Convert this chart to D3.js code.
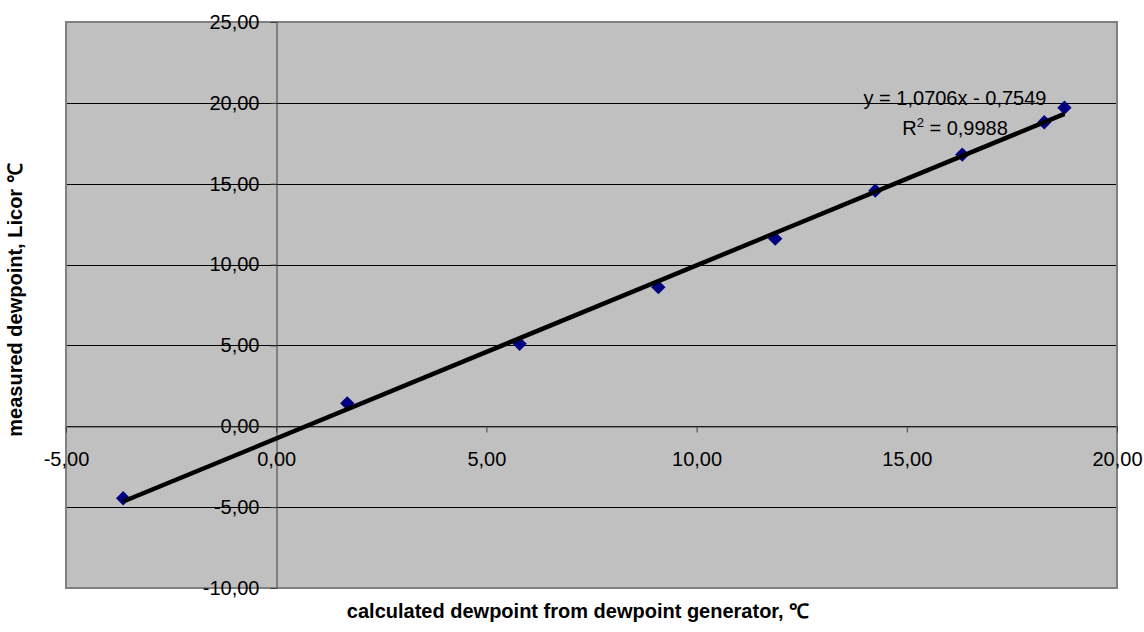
<!DOCTYPE html>
<html>
<head>
<meta charset="utf-8">
<script src="https://cdn.jsdelivr.net/npm/d3@7"></script>
<style>
  body { margin: 0; background: #fff; }
  svg { font-family: "Liberation Sans", Arial, sans-serif; }
</style>
</head>
<body>
<div id="chart"></div>
<script>
// measured points (calculated dewpoint vs Licor dewpoint)
var xValues = [-3.64, 1.69, 5.79, 9.09, 11.87, 14.25, 16.32, 18.27, 18.75]
var yValues = [-4.45, 1.42, 5.10, 8.60, 11.60, 14.57, 16.80, 18.80, 19.70]
var xTicks = [-5, 0, 5, 10, 15, 20]
var yTicks = [-10, -5, 0, 5, 10, 15, 20, 25]
var trendSlope = 1.0706
var trendIntercept = -0.7549

var width = 1144
var height = 632
// note: "top" is a window property, so use other names
var plotLeft = 66, plotRight = 1117, plotTop = 22, plotBottom = 588

var fmt = d3.formatLocale({ decimal: ",", thousands: ".", grouping: [3], currency: ["", ""], minus: "-" }).format(".2f")

var svg = d3.select("#chart").append("svg")
    .attr("width", width)
    .attr("height", height)

var x = d3.scaleLinear().domain([-5, 20]).range([plotLeft, plotRight])
var y = d3.scaleLinear().domain([-10, 25]).range([plotBottom, plotTop])

// plot area
svg.append("rect")
    .attr("x", plotLeft).attr("y", plotTop)
    .attr("width", plotRight - plotLeft).attr("height", plotBottom - plotTop)
    .attr("fill", "#c0c0c0")

// horizontal gridlines
svg.selectAll(".grid")
    .data(yTicks.filter(function(d) { return d > -10 && d < 25 }))
    .enter().append("line")
    .attr("x1", plotLeft).attr("x2", plotRight)
    .attr("y1", function(d) { return Math.round(y(d)) + 0.5 })
    .attr("y2", function(d) { return Math.round(y(d)) + 0.5 })
    .attr("stroke", "#000").attr("stroke-width", 1)

// border
svg.append("rect")
    .attr("x", plotLeft).attr("y", plotTop)
    .attr("width", plotRight - plotLeft).attr("height", plotBottom - plotTop)
    .attr("fill", "none").attr("stroke", "#808080").attr("stroke-width", 2)

// y axis at x = 0
var yAxis = d3.axisLeft(y).tickValues(yTicks).tickSize(6).tickPadding(11).tickFormat(fmt)
var gy = svg.append("g")
    .attr("transform", "translate(" + (Math.round(x(0)) + 0.5) + ",0)")
    .call(yAxis)
gy.select(".domain").attr("stroke", "#404040")
gy.selectAll(".tick line").attr("stroke", "#404040")
gy.selectAll("text").style("font-size", "20px").attr("fill", "#000")
    .style("font-family", "'Liberation Sans', Arial, sans-serif")

// x axis at y = 0
var xAxis = d3.axisBottom(x).tickValues(xTicks).tickSize(6).tickPadding(19).tickFormat(fmt)
var gx = svg.append("g")
    .attr("transform", "translate(0," + (Math.round(y(0)) + 0.5) + ")")
    .call(xAxis)
gx.select(".domain").attr("stroke", "#404040")
gx.selectAll(".tick line").attr("stroke", "#404040")
gx.selectAll("text").style("font-size", "20px").attr("fill", "#000")
    .style("font-family", "'Liberation Sans', Arial, sans-serif")

// markers
var diamond = d3.symbol().type(d3.symbolDiamond2).size(130)
svg.selectAll(".pt")
    .data(xValues.map(function(d, i) { return [d, yValues[i]] }))
    .enter().append("path")
    .attr("d", diamond)
    .attr("transform", function(d) { return "translate(" + x(d[0]) + "," + y(d[1]) + ")" })
    .attr("fill", "#000080")

// linear trendline
var xMin = d3.min(xValues), xMax = d3.max(xValues)
svg.append("line")
    .attr("x1", x(xMin)).attr("y1", y(trendSlope * xMin + trendIntercept))
    .attr("x2", x(xMax)).attr("y2", y(trendSlope * xMax + trendIntercept))
    .attr("stroke", "#000").attr("stroke-width", 4.5)

// equation labels
svg.append("text")
    .attr("x", 955).attr("y", 105)
    .attr("text-anchor", "middle")
    .style("font-size", "20px")
    .text("y = 1,0706x - 0,7549")

var r2 = svg.append("text")
    .attr("x", 955).attr("y", 135)
    .attr("text-anchor", "middle")
    .style("font-size", "20px")
r2.append("tspan").text("R")
r2.append("tspan").attr("dy", -8).style("font-size", "13px").text("2")
r2.append("tspan").attr("dy", 8).text(" = 0,9988")

// axis titles
svg.append("text")
    .attr("x", 578).attr("y", 618)
    .attr("text-anchor", "middle")
    .style("font-size", "20px").style("font-weight", "bold")
    .text("calculated dewpoint from dewpoint generator, ℃")

svg.append("text")
    .attr("transform", "translate(22,300) rotate(-90)")
    .attr("text-anchor", "middle")
    .style("font-size", "20px").style("font-weight", "bold")
    .text("measured dewpoint, Licor ℃")
</script>
</body>
</html>
